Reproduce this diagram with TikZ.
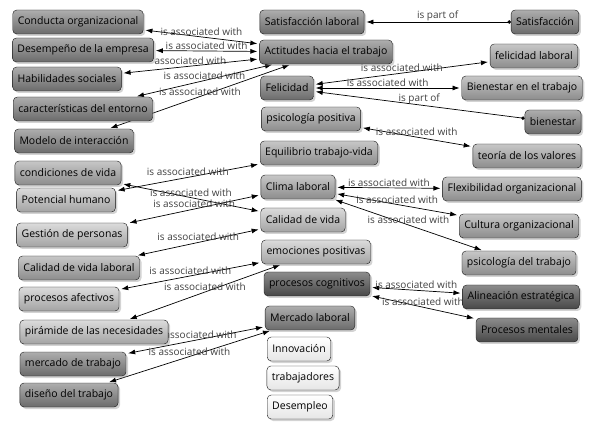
\documentclass[tikz,border=0pt]{standalone}
\usepackage{fontspec}
\setmainfont{Open Sans}
\usepackage{tikz}
\usetikzlibrary{arrows.meta,shadows}
\pgfdeclarelayer{links}
\pgfsetlayers{links,main}

\begin{document}
\begin{tikzpicture}[x=1pt, y=-1pt,
    concept/.style={draw=black!90, rounded corners=4pt, minimum height=24pt, inner xsep=5pt, font=\fontsize{10.5}{12}\selectfont,
        drop shadow={opacity=0.35, shadow xshift=2pt, shadow yshift=-2pt}},
    deep/.style={concept, top color=black!45, bottom color=black!72},
    dark/.style={concept, top color=black!32, bottom color=black!58},
    mid/.style={concept, top color=black!22, bottom color=black!45},
    soft/.style={concept, top color=black!14, bottom color=black!36},
    pale/.style={concept, top color=white, bottom color=black!10},
    assoc/.style={{Latex[length=7pt,width=5pt]}-{Latex[length=7pt,width=5pt]}, line width=0.7pt, shorten <=2pt, shorten >=2pt},
    partof/.style={{Circle[length=3.5pt]}-{Latex[length=7pt,width=5pt]}, line width=0.7pt, shorten >=2pt},
    lbl/.style={midway, above, inner sep=1pt, font=\fontsize{10}{11}\selectfont, text=black!75},
]
\useasboundingbox (0,0) rectangle (594,427);

\node[dark] (conducta) at (78, 22) {Conducta organizacional};
\node[dark] (desemp) at (83, 50) {Desempeño de la empresa};
\node[dark] (habil) at (67, 79) {Habilidades sociales};
\node[dark] (entorno) at (83, 109) {características del entorno};
\node[dark] (modelo) at (74, 141) {Modelo de interacción};
\node[mid] (condic) at (68, 173) {condiciones de vida};
\node[soft] (potenc) at (66, 200) {Potencial humano};
\node[soft] (gestion) at (72, 235) {Gestión de personas};
\node[mid] (cvl) at (79, 268) {Calidad de vida laboral};
\node[soft] (afect) at (69, 299) {procesos afectivos};
\node[soft] (piram) at (94, 332) {pirámide de las necesidades};
\node[dark] (mtrab) at (73, 364) {mercado de trabajo};
\node[dark] (disen) at (69, 395) {diseño del trabajo};

\node[dark] (satlab) at (312, 22) {Satisfacción laboral};
\node[dark] (actit) at (326, 52) {Actitudes hacia el trabajo};
\node[dark] (felic) at (287, 88) {Felicidad};
\node[mid] (psipos) at (311, 119) {psicología positiva};
\node[mid] (equil) at (319, 153) {Equilibrio trabajo-vida};
\node[mid] (clima) at (298, 187) {Clima laboral};
\node[soft] (calvida) at (303, 220) {Calidad de vida};
\node[soft] (emoc) at (316, 252) {emociones positivas};
\node[deep] (cogn) at (317, 284) {procesos cognitivos};
\node[dark] (mlab) at (310, 318) {Mercado laboral};
\node[pale] (innov) at (299, 349) {Innovación};
\node[pale] (trabaj) at (303, 378) {trabajadores};
\node[pale] (desempleo) at (300, 407) {Desempleo};

\node[dark] (satisf) at (545, 22) {Satisfacción};
\node[mid] (feliclab) at (534, 56) {felicidad laboral};
\node[mid] (bientrab) at (522, 88) {Bienestar en el trabajo};
\node[dark] (bienestar) at (553, 122) {bienestar};
\node[mid] (teoria) at (527, 156) {teoría de los valores};
\node[mid] (flex) at (512, 189) {Flexibilidad organizacional};
\node[mid] (cultura) at (519, 226) {Cultura organizacional};
\node[mid] (psitrab) at (519, 263) {psicología del trabajo};
\node[deep] (alin) at (521, 297) {Alineación estratégica};
\node[deep] (procment) at (527, 330) {Procesos mentales};

\begin{pgfonlayer}{links}
\draw[partof] (satisf) -- node[lbl] {is part of} (satlab);
\draw[assoc] (conducta) -- node[lbl] {is associated with} (actit);
\draw[assoc] (desemp) -- node[lbl] {is associated with} (actit);
\draw[assoc] (habil) -- node[lbl] {associated with} (actit);
\draw[assoc] (entorno) -- node[lbl] {is associated with} (actit);
\draw[assoc] (modelo) -- node[lbl] {is associated with} (actit);
\draw[assoc] (felic) -- node[lbl] {is associated with} (feliclab);
\draw[assoc] (felic) -- node[lbl] {is associated with} (bientrab);
\draw[partof] (bienestar) -- node[lbl] {is part of} (felic);
\draw[assoc] (psipos) -- node[lbl] {is associated with} (teoria);
\draw[assoc] (potenc) -- node[lbl] {is associated with} (equil);
\draw[assoc] (condic) -- node[lbl] {is associated with} (calvida);
\draw[assoc] (gestion) -- node[lbl] {is associated with} (clima);
\draw[assoc] (cvl) -- node[lbl] {is associated with} (calvida);
\draw[assoc] (afect) -- node[lbl] {is associated with} (emoc);
\draw[assoc] (piram) -- node[lbl] {is associated with} (emoc);
\draw[assoc] (mtrab) -- node[lbl] {is associated with} (mlab);
\draw[assoc] (disen) -- node[lbl] {is associated with} (mlab);
\draw[assoc] (clima) -- node[lbl] {is associated with} (flex);
\draw[assoc] (clima) -- node[lbl] {is associated with} (cultura);
\draw[assoc] (clima) -- node[lbl] {is associated with} (psitrab);
\draw[assoc] (cogn) -- node[lbl] {is associated with} (alin);
\draw[assoc] (cogn) -- node[lbl] {is associated with} (procment);
\end{pgfonlayer}
\end{tikzpicture}
\end{document}
